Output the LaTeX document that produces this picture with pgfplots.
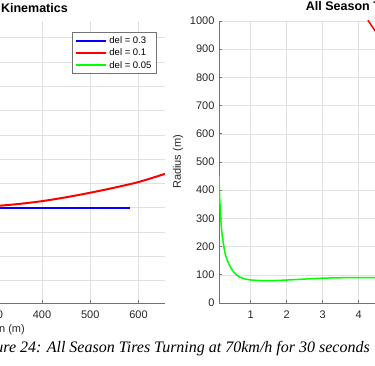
\documentclass[border=0pt]{standalone}
\usepackage{fontspec}
\setmainfont{Liberation Sans}
\newfontfamily\capfont{Liberation Serif}
\usepackage{pgfplots}
\pgfplotsset{compat=1.18}
\definecolor{gridc}{gray}{0.88}
\definecolor{axc}{gray}{0.45}
\definecolor{txtc}{gray}{0.15}
\pgfplotsset{
 myax/.style={scale only axis, width=364pt, height=282pt, anchor=south west,
  axis x line*=bottom, axis y line*=left,
  axis line style={axc, line width=0.6pt},
  grid=major, major grid style={gridc, line width=0.5pt},
  tick align=inside, major tick length=3pt, tick style={axc, line width=0.6pt},
  /pgf/number format/assume math mode=true,
  /pgf/number format/set thousands separator={},
  tick label style={font=\fontsize{11}{13}\selectfont, text=txtc},
  xticklabel style={yshift=-4pt},
  yticklabel style={xshift=-1pt},
  label style={font=\fontsize{11}{13}\selectfont, text=txtc},
  title style={font=\bfseries\fontsize{12.5}{14}\selectfont, inner sep=0pt, text=black},
 }
}
\begin{document}
\begin{tikzpicture}[x=1pt,y=1pt]
\path[use as bounding box] (0,0) rectangle (375,366);
\clip (0,0) rectangle (375,366);
% Left: kinematics
\begin{axis}[myax, at={(-199pt,63pt)},
  xmin=-100, xmax=655, ymin=-196, ymax=384,
  xtick={-100,0,...,600}, ytick={-150,-100,...,350},
  title={All Season Tires Kinematics},
  title style={at={(axis description cs:0.7335,1.0096)}, anchor=base east},
  xlabel={X Position (m)},
  xlabel style={at={(axis description cs:0.6154,-0.0762)}, anchor=north east, inner sep=0pt},
  ylabel={Y Position (m)},
  legend style={at={(0.9772,0.96)}, anchor=north east, font=\fontsize{9.5}{11}\selectfont,
    draw=axc, fill=white, line width=0.5pt, legend cell align=left},
  legend image code/.code={\draw[#1] (0pt,0pt) -- (30pt,0pt);},
]
\addplot[color=blue, line width=2pt] coordinates {(0,0) (582,0)};
\addlegendentry{del = 0.3}
\addplot[color=red, line width=2pt, smooth] coordinates {(0,0) (200,0) (250,0.8) (300,3.2) (350,7.5) (400,13.5) (450,21.5) (500,30.8) (550,41.2) (600,52.8) (650,68) (700,84)};
\addlegendentry{del = 0.1}
\addplot[color=green, line width=2pt, smooth] coordinates {(0,0) (45,12) (78,45) (90,90) (78,135) (45,168) (0,180) (-45,168) (-78,135) (-90,90) (-78,45) (-45,12) (0,0)};
\addlegendentry{del = 0.05}
\end{axis}
% Right: radius
\begin{axis}[myax, at={(219pt,63pt)},
  xmin=0.12, xmax=10.23, ymin=0, ymax=1000,
  xtick={1,...,10}, ytick={0,100,...,1000},
  title={All Season Tires Turning Radius},
  title style={at={(axis description cs:0.2382,1.0152)}, anchor=base west},
  xlabel={Time (s)},
  ylabel={Radius (m)},
  ylabel style={at={(axis description cs:-0.1126,0.5)}, anchor=center},
]
\addplot[color=green, line width=1.5pt, smooth] coordinates {(0.12,450) (0.14,370) (0.17,300) (0.2,250) (0.29,176) (0.43,129) (0.61,99) (0.8,87) (0.98,82) (1.3,79.5) (1.62,79.5) (2.1,82) (2.6,85.5) (3.0,88) (3.5,89.5) (4.0,90) (4.6,90) (5.5,90)};
\addplot[color=red, line width=1.5pt] coordinates {(3.9,1200) (4.1,1080) (4.27,1000) (4.45,966) (4.8,920) (5.5,880)};
\end{axis}
\node[anchor=base east, inner sep=0pt, font=\capfont\itshape\fontsize{16}{18}\selectfont] at (370,13) {Figure 24: All Season Tires Turning at 70km/h for 30 seconds};
\end{tikzpicture}
\end{document}
